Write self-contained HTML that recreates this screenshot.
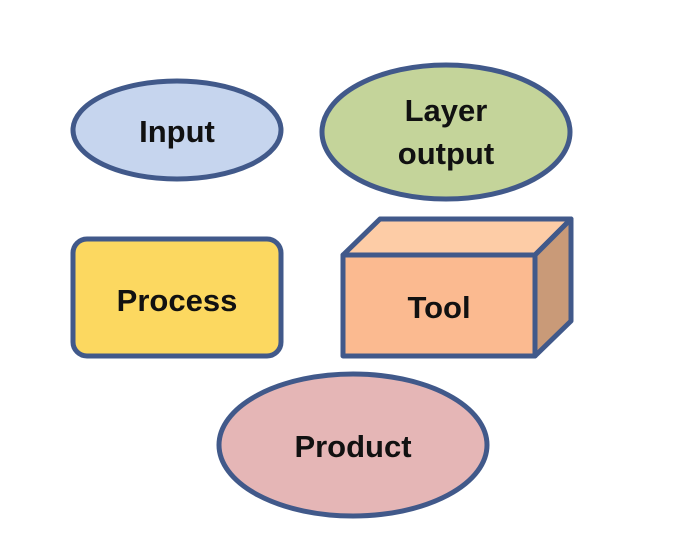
<!DOCTYPE html>
<html><head><style>body{margin:0;background:#fff}</style></head><body>
<svg width="682" height="555" xmlns="http://www.w3.org/2000/svg" style="display:block">
<g stroke="#41598a" stroke-width="5" stroke-linejoin="round" font-family="Liberation Sans, sans-serif" font-size="31" font-weight="bold" text-anchor="middle">
<ellipse cx="177" cy="130" rx="104" ry="49" fill="#c6d5ee"/>
<ellipse cx="446" cy="132" rx="124" ry="67" fill="#c4d49a"/>
<rect x="73" y="239" width="208" height="117" rx="14" fill="#fcd860"/>
<polygon points="343,255 380,219 571,219 535,255" fill="#fdcca6"/>
<polygon points="535,255 571,219 571,321 535,356" fill="#c99a78"/>
<rect x="343" y="255" width="192" height="101" fill="#fbba90"/>
<ellipse cx="353" cy="445" rx="134" ry="71" fill="#e5b6b6"/>
<g stroke="none" fill="#111">
<text x="177" y="142">Input</text>
<text x="446" y="121">Layer</text>
<text x="446" y="164">output</text>
<text x="177" y="311">Process</text>
<text x="439" y="318">Tool</text>
<text x="353" y="457">Product</text>
</g></g></svg>
</body></html>
